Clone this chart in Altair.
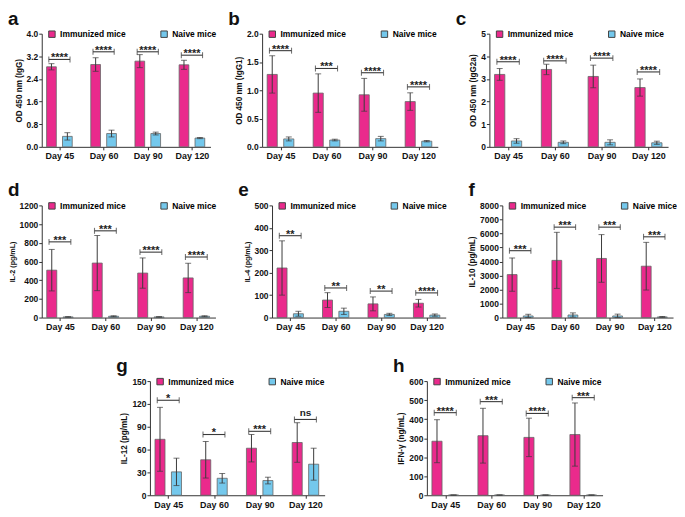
import json
import numpy as np
import pandas as pd
import altair as alt

FONT = "Liberation Sans"
DAYS = ["Day 45", "Day 60", "Day 90", "Day 120"]
GROUPS = ["Immunized mice", "Naive mice"]
COLORS = ["#EA2A8C", "#74C8EC"]
INK = "#3a3a3a"

# ---- panel a : IgG
A_IMM = [2.83, 2.91, 3.03, 2.90]
A_IMM_SD = [0.11, 0.24, 0.23, 0.16]
A_NAI = [0.37, 0.47, 0.47, 0.31]
A_NAI_SD = [0.13, 0.12, 0.05, 0.02]
A_SIG_Y = [3.09, 3.36, 3.36, 3.24]
A_SIG = ["****", "****", "****", "****"]

# ---- panel b : IgG1
B_IMM = [1.28, 0.95, 0.92, 0.80]
B_IMM_SD = [0.33, 0.34, 0.29, 0.155]
B_NAI = [0.14, 0.12, 0.145, 0.10]
B_NAI_SD = [0.035, 0.015, 0.04, 0.012]
B_SIG_Y = [1.70, 1.385, 1.31, 1.06]
B_SIG = ["****", "***", "****", "****"]

# ---- panel c : IgG2a
C_IMM = [3.20, 3.42, 3.11, 2.62]
C_IMM_SD = [0.26, 0.23, 0.50, 0.38]
C_NAI = [0.26, 0.20, 0.20, 0.18]
C_NAI_SD = [0.10, 0.06, 0.11, 0.07]
C_SIG_Y = [3.76, 3.80, 3.92, 3.31]
C_SIG = ["****", "****", "****", "****"]

# ---- panel d : IL-2
D_IMM = [507, 583, 476, 424]
D_IMM_SD = [222, 295, 162, 157]
D_NAI = [7, 14, 7, 14]
D_NAI_SD = [3, 5, 3, 5]
D_SIG_Y = [810, 928, 700, 648]
D_SIG = ["***", "***", "****", "****"]

# ---- panel e : IL-4
E_IMM = [221, 78, 61, 64]
E_IMM_SD = [121, 33, 31, 17]
E_NAI = [17, 28, 14, 11]
E_NAI_SD = [11, 14, 5, 5]
E_SIG_Y = [365, 132, 118, 110]
E_SIG = ["**", "**", "**", "****"]

# ---- panel f : IL-10
F_IMM = [3065, 4080, 4217, 3664]
F_IMM_SD = [1190, 2000, 1700, 1700]
F_NAI = [115, 184, 115, 46]
F_NAI_SD = [120, 150, 130, 30]
F_SIG_Y = [4770, 6450, 6450, 5760]
F_SIG = ["***", "***", "***", "***"]

# ---- panel g : IL-12
G_IMM = [73.5, 46.6, 61.8, 69.3]
G_IMM_SD = [42, 24, 18, 26]
G_NAI = [30.7, 22.3, 19.3, 40.8]
G_NAI_SD = [18, 6.3, 4.4, 21]
G_SIG_Y = [124.8, 79.8, 84, 99.6]
G_SIG = ["*", "*", "***", "ns"]

# ---- panel h : IFN-gamma
H_IMM = [284, 313, 304, 319]
H_IMM_SD = [113, 144, 101, 166]
H_NAI = [1, 1, 1, 1]
H_NAI_SD = [0.5, 0.5, 0.5, 0.5]
H_SIG_Y = [434, 492, 430, 513]
H_SIG = ["****", "***", "****", "***"]

LABEL_EXPR = json.dumps(DAYS) + "[datum.value]"


def panel(letter, ytitle, ymax, ystep, fmt, imm, imm_sd, nai, nai_sd, sig_y, sig,
          width, height, title_size=8.2):
    rows = []
    for i in range(len(DAYS)):
        for g, m, s in ((GROUPS[0], imm[i], imm_sd[i]), (GROUPS[1], nai[i], nai_sd[i])):
            rows.append({"idx": i, "group": g, "mean": m, "zero": 0,
                         "lo": max(0.0, m - s), "hi": m + s})
    bar_df = pd.DataFrame(rows)
    sig_df = pd.DataFrame({"idx": list(range(len(DAYS))), "sy": sig_y, "label": sig})

    xs = alt.Scale(domain=[-0.4, 3.42], nice=False, zero=False)
    ys = alt.Scale(domain=[0, ymax], nice=False, zero=True)
    xaxis = alt.Axis(values=[0, 1, 2, 3], labelExpr=LABEL_EXPR, title=None, grid=False,
                     tickSize=3, labelFontSize=9, labelFontWeight="bold", labelPadding=2,
                     labelFlush=False, labelOverlap=False, labelAngle=0)
    yvals = [round(v, 3) for v in np.arange(0, ymax + ystep / 2, ystep)]
    yaxis = alt.Axis(values=yvals, format=fmt, title=ytitle, grid=False, tickSize=3,
                     labelFontSize=8.5, labelFontWeight="bold", labelPadding=1,
                     titleFontSize=title_size, titleFontWeight="bold", titlePadding=3)

    def X(f):
        return alt.X(f + ":Q", scale=xs, axis=xaxis)

    def Y(f):
        return alt.Y(f + ":Q", scale=ys, axis=yaxis)

    xc = "datum.idx + (datum.group == '%s' ? -0.18 : 0.18)" % GROUPS[0]
    base = alt.Chart(bar_df).transform_calculate(xc=xc).transform_calculate(
        x1="datum.xc - 0.11", x2="datum.xc + 0.11")

    legend = alt.Legend(orient="none", legendX=6, legendY=-4, direction="horizontal",
                        title=None, symbolType="square", symbolSize=42,
                        symbolStrokeColor="#444", symbolStrokeWidth=1,
                        labelFontSize=8.5, labelFontWeight="bold", labelFont=FONT,
                        columnPadding=33, labelOffset=4, padding=0)

    bars = base.mark_bar(stroke="#666", strokeWidth=0.8).encode(
        x=X("x1"), x2="x2:Q", y=Y("mean"), y2="zero:Q",
        color=alt.Color("group:N", scale=alt.Scale(domain=GROUPS, range=COLORS), legend=legend))
    err = base.mark_rule(color=INK, strokeWidth=1).encode(x=X("xc"), y=Y("lo"), y2="hi:Q")
    caps = base.transform_fold(["lo", "hi"], as_=["k", "v"]).mark_tick(
        orient="horizontal", size=6, thickness=1, color=INK).encode(x=X("xc"), y=Y("v"))

    sbase = alt.Chart(sig_df).transform_calculate(bl="datum.idx - 0.24", br="datum.idx + 0.24")
    brule = sbase.mark_rule(color=INK, strokeWidth=1.1).encode(x=X("bl"), x2="br:Q", y=Y("sy"))
    bends = sbase.transform_fold(["bl", "br"], as_=["k", "v"]).mark_tick(
        orient="vertical", size=6, thickness=1.1, color=INK).encode(x=X("v"), y=Y("sy"))
    stars = sbase.transform_filter("datum.label != 'ns'").mark_text(
        fontSize=11, fontWeight="bold", baseline="alphabetic", dy=2, color="#222").encode(
        x=X("idx"), y=Y("sy"), text="label:N")
    ns = sbase.transform_filter("datum.label == 'ns'").mark_text(
        fontSize=10, fontWeight="bold", baseline="alphabetic", dy=-3, color="#222").encode(
        x=X("idx"), y=Y("sy"), text="label:N")

    return alt.layer(bars, err, caps, brule, bends, stars, ns).properties(
        width=width, height=height,
        title=alt.TitleParams(letter, anchor="start", frame="group", fontSize=19,
                              fontWeight="bold", font=FONT, offset=1, dx=-34, color="#111"))


def spacer(w):
    return alt.Chart(pd.DataFrame({"v": [0]})).mark_point(opacity=0, size=1).encode(
        x=alt.value(0), y=alt.value(0)).properties(width=w, height=1)


def indep(c):
    return c.resolve_scale(color="independent").resolve_legend(color="independent")


pa = panel("a", "OD 450 nm (IgG)", 4.0, 0.8, ".1f", A_IMM, A_IMM_SD, A_NAI, A_NAI_SD, A_SIG_Y, A_SIG, 170, 114)
pb = panel("b", "OD 450 nm (IgG1)", 2.0, 0.5, ".1f", B_IMM, B_IMM_SD, B_NAI, B_NAI_SD, B_SIG_Y, B_SIG, 177, 114)
pc = panel("c", "OD 450 nm (IgG2a)", 5, 1, "d", C_IMM, C_IMM_SD, C_NAI, C_NAI_SD, C_SIG_Y, C_SIG, 180, 114)
pd_ = panel("d", "IL-2 (pg/mL)", 1200, 200, "d", D_IMM, D_IMM_SD, D_NAI, D_NAI_SD, D_SIG_Y, D_SIG, 175, 113, 7.2)
pe = panel("e", "IL-4 (pg/mL)", 500, 100, "d", E_IMM, E_IMM_SD, E_NAI, E_NAI_SD, E_SIG_Y, E_SIG, 175, 113, 7.2)
pf = panel("f", "IL-10 (pg/mL)", 8000, 1000, "d", F_IMM, F_IMM_SD, F_NAI, F_NAI_SD, F_SIG_Y, F_SIG, 172, 113)
pg = panel("g", "IL-12 (pg/mL)", 150, 30, "d", G_IMM, G_IMM_SD, G_NAI, G_NAI_SD, G_SIG_Y, G_SIG, 176, 115)
ph = panel("h", "IFN-γ (ng/mL)", 600, 100, "d", H_IMM, H_IMM_SD, H_NAI, H_NAI_SD, H_SIG_Y, H_SIG, 177, 115)

row1 = indep(alt.hconcat(pa, pb, pc, spacing=52, bounds="flush"))
row2 = indep(alt.hconcat(pd_, pe, pf, spacing=57, bounds="flush"))
row3 = indep(alt.hconcat(spacer(6), pg, ph, spacing=103, bounds="flush"))

top = indep(alt.vconcat(row1, row2, spacing=21, bounds="full"))
chart = indep(alt.vconcat(top, row3, spacing=26, bounds="full")).properties(
    padding=0, background="white"
).configure(font=FONT).configure_view(stroke=None).configure_axis(
    domainColor="#333", tickColor="#333", labelColor="#111", titleColor="#111",
    labelFont=FONT, titleFont=FONT, domainWidth=1, tickWidth=1)

chart.save("out.html", embed_options={"renderer": "svg", "actions": False})
